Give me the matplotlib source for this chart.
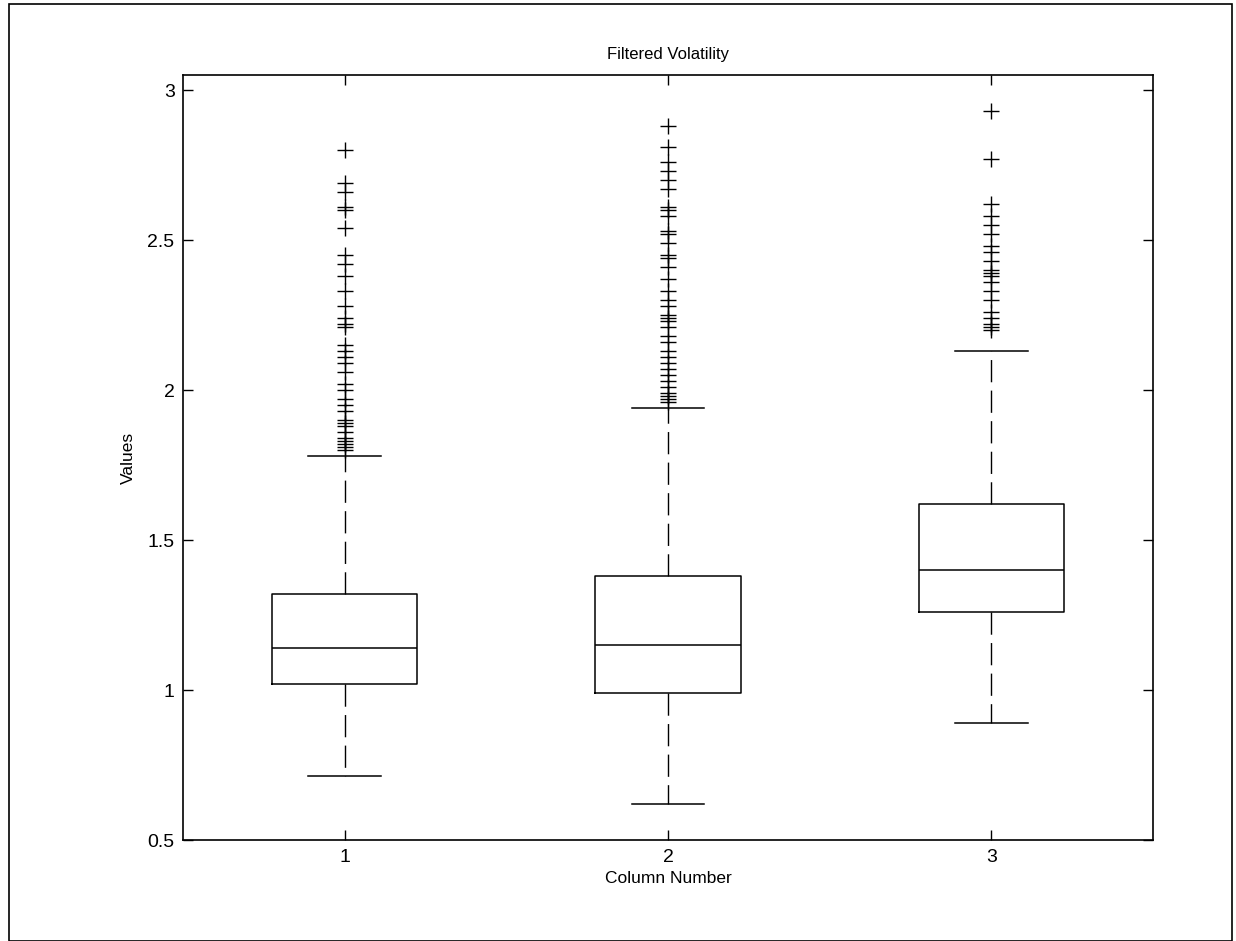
import matplotlib
matplotlib.use("Agg")
import matplotlib.pyplot as plt
from matplotlib.patches import Rectangle

plt.rcParams['font.family'] = ['Liberation Sans', 'DejaVu Sans']

# box statistics (columns 1..3)
columns = [1, 2, 3]
q1 = [1.02, 0.99, 1.26]
medians = [1.14, 1.15, 1.40]
q3 = [1.32, 1.38, 1.62]
whisker_low = [0.715, 0.62, 0.89]
whisker_high = [1.78, 1.94, 2.13]

outliers_1 = [2.80, 2.69, 2.66, 2.61, 2.60, 2.54, 2.45, 2.42, 2.38, 2.33,
              2.28, 2.24, 2.22, 2.21, 2.15, 2.13, 2.11, 2.09, 2.06, 2.02,
              2.00, 1.97, 1.95, 1.93, 1.90, 1.89, 1.88, 1.86, 1.84, 1.83,
              1.82, 1.81, 1.80]
outliers_2 = [2.88, 2.81, 2.76, 2.73, 2.70, 2.67, 2.61, 2.60, 2.58, 2.53,
              2.52, 2.49, 2.45, 2.44, 2.41, 2.37, 2.33, 2.30, 2.28, 2.25,
              2.24, 2.23, 2.21, 2.18, 2.16, 2.13, 2.11, 2.09, 2.07, 2.05,
              2.03, 2.01, 1.99, 1.98, 1.97, 1.96]
outliers_3 = [2.93, 2.77, 2.62, 2.58, 2.55, 2.52, 2.48, 2.46, 2.43, 2.40,
              2.39, 2.38, 2.36, 2.33, 2.30, 2.26, 2.24, 2.22, 2.21, 2.20]

stats = []
for i, fl in enumerate([outliers_1, outliers_2, outliers_3]):
    stats.append({"med": medians[i], "q1": q1[i], "q3": q3[i],
                  "whislo": whisker_low[i], "whishi": whisker_high[i],
                  "fliers": fl})

fig = plt.figure(figsize=(12.36, 9.41), dpi=100)
ax = fig.add_axes([0.148, 0.107, 0.785, 0.813])

ax.bxp(stats, positions=columns, widths=0.45,
       boxprops=dict(color="black", linewidth=1.1),
       medianprops=dict(color="black", linewidth=1.1),
       whiskerprops=dict(color="black", linewidth=1, linestyle=(0, (16, 6))),
       capprops=dict(color="black", linewidth=1.1),
       flierprops=dict(marker="+", markeredgecolor="black", markersize=11,
                       markeredgewidth=1),
       capwidths=0.225)

ax.set_xlim(0.5, 3.5)
ax.set_ylim(0.5, 3.05)
ax.set_xticks(columns)
ax.set_xticklabels([str(c) for c in columns])
ax.set_yticks([0.5, 1, 1.5, 2, 2.5, 3])
ax.set_yticklabels(["0.5", "1", "1.5", "2", "2.5", "3"])
ax.tick_params(direction="in", top=True, right=True, length=7, labelsize=14,
               width=1, pad=6)
for s in ax.spines.values():
    s.set_linewidth(1.2)

ax.set_title("Filtered Volatility", fontsize=12, pad=12)
ax.set_xlabel("Column Number", fontsize=12.5, labelpad=4)
ax.set_ylabel("Values", fontsize=12.5, labelpad=8)

# outer frame around the figure
fig.patches.append(Rectangle((0.007, 0.0), 0.99, 0.996, transform=fig.transFigure,
                             fill=False, edgecolor="black", linewidth=1.2))

fig.savefig("out.png", dpi=100)
